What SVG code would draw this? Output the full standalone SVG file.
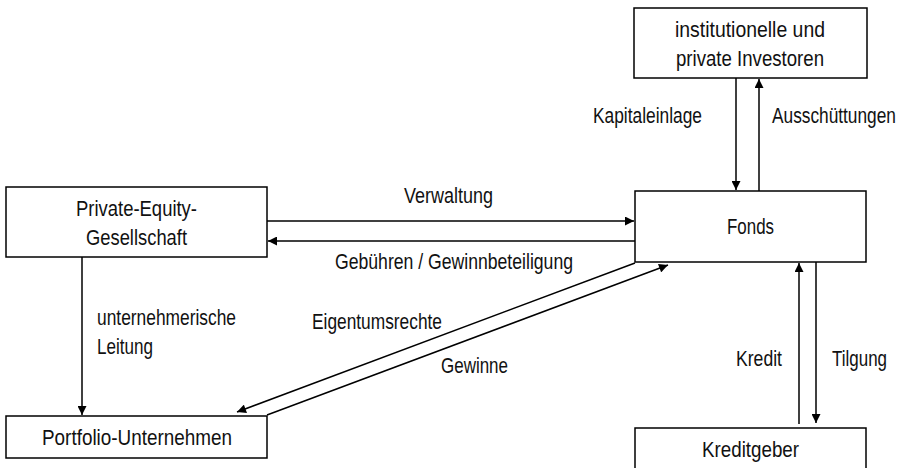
<svg xmlns="http://www.w3.org/2000/svg" width="903" height="468" viewBox="0 0 903 468">
<style>
.box{fill:#fff;stroke:#000;stroke-width:1.5}
.t{font-family:"Liberation Sans",Arial,sans-serif;font-size:22px;fill:#111}
.ln{stroke:#000;stroke-width:1.5;fill:none;marker-end:url(#ah)}
</style>
<defs>
<marker id="ah" viewBox="0 0 10 10" refX="10" refY="5" markerWidth="10" markerHeight="9" markerUnits="userSpaceOnUse" orient="auto">
<path d="M0,0 L10,5 L0,10 z" fill="#000"/>
</marker>
</defs>
<g id="connectors">
<line class="ln" x1="736" y1="78" x2="736" y2="190"/>
<line class="ln" x1="759" y1="191" x2="759" y2="79"/>
<line class="ln" x1="267" y1="221" x2="634" y2="221"/>
<line class="ln" x1="635" y1="241" x2="268" y2="241"/>
<line class="ln" x1="82" y1="257" x2="82" y2="415"/>
<line class="ln" x1="635" y1="263" x2="237" y2="412"/>
<line class="ln" x1="267" y1="415" x2="668" y2="265"/>
<line class="ln" x1="799" y1="424" x2="799" y2="263"/>
<line class="ln" x1="816" y1="262" x2="816" y2="423"/>
</g>
<g id="investoren">
<rect class="box" x="634" y="8" width="233" height="70"/>
<text class="t" x="675" y="37" textLength="150" lengthAdjust="spacingAndGlyphs">institutionelle und</text>
<text class="t" x="676" y="66" textLength="148" lengthAdjust="spacingAndGlyphs">private Investoren</text>
</g>
<g id="fonds">
<rect class="box" x="635" y="191" width="231" height="71"/>
<text class="t" x="727" y="234" textLength="47" lengthAdjust="spacingAndGlyphs">Fonds</text>
</g>
<g id="pe">
<rect class="box" x="6" y="187" width="261" height="70"/>
<text class="t" x="76" y="216" textLength="121" lengthAdjust="spacingAndGlyphs">Private-Equity-</text>
<text class="t" x="86" y="245" textLength="101" lengthAdjust="spacingAndGlyphs">Gesellschaft</text>
</g>
<g id="portfolio">
<rect class="box" x="6" y="416" width="261" height="42"/>
<text class="t" x="42" y="445" textLength="190" lengthAdjust="spacingAndGlyphs">Portfolio-Unternehmen</text>
</g>
<g id="kreditgeber">
<rect class="box" x="635" y="428" width="231" height="50"/>
<text class="t" x="702" y="457" textLength="97" lengthAdjust="spacingAndGlyphs">Kreditgeber</text>
</g>
<g id="labels">
<text class="t" x="593" y="123" textLength="109" lengthAdjust="spacingAndGlyphs">Kapitaleinlage</text>
<text class="t" transform="translate(772,123) scale(0.786,1)">Ausschüttungen</text>
<text class="t" x="404" y="203" textLength="89" lengthAdjust="spacingAndGlyphs">Verwaltung</text>
<text class="t" x="335" y="269" textLength="238" lengthAdjust="spacingAndGlyphs">Gebühren / Gewinnbeteiligung</text>
<text class="t" x="97" y="325" textLength="139" lengthAdjust="spacingAndGlyphs">unternehmerische</text>
<text class="t" x="97" y="354" textLength="56" lengthAdjust="spacingAndGlyphs">Leitung</text>
<text class="t" x="312" y="329" textLength="130" lengthAdjust="spacingAndGlyphs">Eigentumsrechte</text>
<text class="t" x="441" y="373" textLength="67" lengthAdjust="spacingAndGlyphs">Gewinne</text>
<text class="t" x="736" y="366" textLength="46" lengthAdjust="spacingAndGlyphs">Kredit</text>
<text class="t" x="832" y="366" textLength="55" lengthAdjust="spacingAndGlyphs">Tilgung</text>
</g>
</svg>
